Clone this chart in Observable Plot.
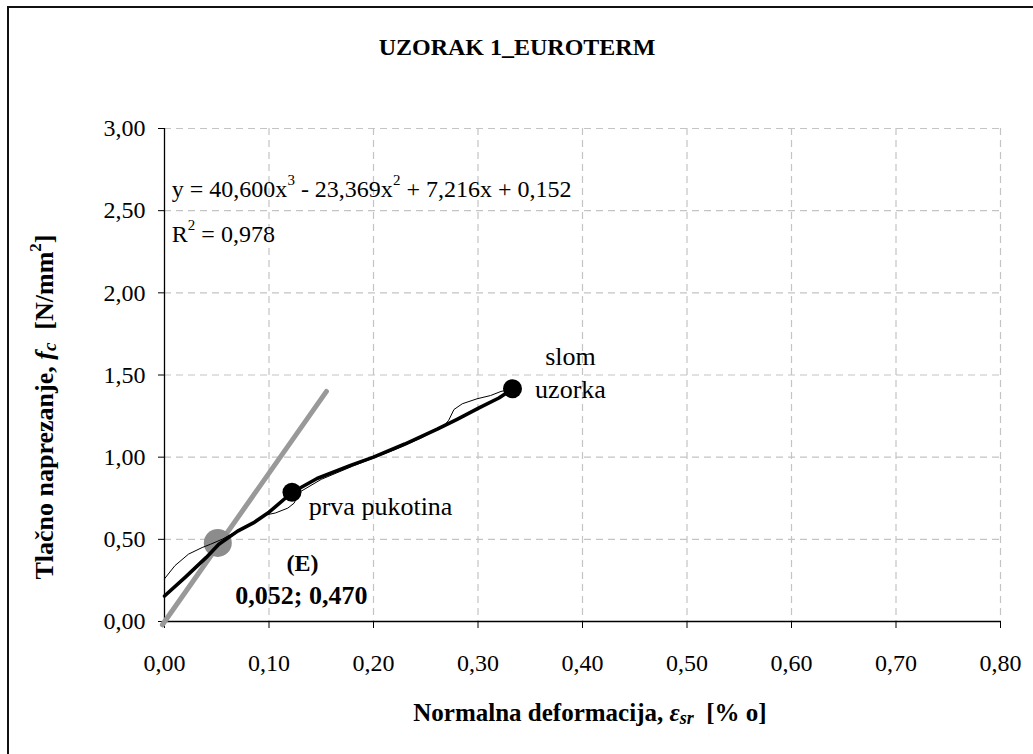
<!DOCTYPE html>
<html>
<head>
<meta charset="utf-8">
<script src="https://cdn.jsdelivr.net/npm/d3@7"></script>
<script src="https://cdn.jsdelivr.net/npm/@observablehq/plot@0.6"></script>
<style>
  body { margin: 0; background: #fff; }
  #wrap { position: relative; width: 1033px; height: 754px; overflow: hidden; background: #fff; }
  #wrap svg { position: absolute; left: 0; top: 0; }
  #border { position: absolute; left: 7px; top: 6px; width: 1100px; height: 900px; border: 2px solid #111; box-sizing: border-box; pointer-events: none; }
</style>
</head>
<body>
<div id="wrap"><div id="border"></div></div>
<script>
// ---- tick values and labels ----
const xTicks = [0, 0.1, 0.2, 0.3, 0.4, 0.5, 0.6, 0.7, 0.8];
const xTickLabels = ["0,00", "0,10", "0,20", "0,30", "0,40", "0,50", "0,60", "0,70", "0,80"];
const yTicks = [0, 0.5, 1.0, 1.5, 2.0, 2.5, 3.0];
const yTickLabels = ["0,00", "0,50", "1,00", "1,50", "2,00", "2,50", "3,00"];

// ---- fitted (thick) curve ----
const fitX = [0, 0.02, 0.04, 0.052, 0.07, 0.085, 0.10, 0.122, 0.146, 0.178, 0.20, 0.23, 0.261, 0.28, 0.301, 0.32, 0.333];
const fitY = [0.155, 0.27, 0.39, 0.47, 0.55, 0.60, 0.665, 0.785, 0.87, 0.95, 1.00, 1.08, 1.17, 1.23, 1.30, 1.36, 1.415];

const rawX = [0, 0.01, 0.023, 0.036, 0.044, 0.055, 0.065, 0.075, 0.08, 0.086, 0.094, 0.106, 0.118, 0.124, 0.127, 0.13, 0.15, 0.18, 0.20, 0.22, 0.245, 0.26, 0.268, 0.272, 0.277, 0.285, 0.299, 0.312, 0.322, 0.333];
const rawY = [0.26, 0.34, 0.41, 0.45, 0.47, 0.50, 0.535, 0.57, 0.58, 0.60, 0.645, 0.66, 0.69, 0.72, 0.76, 0.79, 0.865, 0.945, 0.995, 1.045, 1.115, 1.165, 1.195, 1.225, 1.29, 1.325, 1.355, 1.375, 1.40, 1.415];

// ---- elastic modulus line (grey) ----
const elasticX = [-0.002, 0.155];
const elasticY = [-0.02, 1.40];

// ---- marked points ----
const eX = [0.051];
const eY = [0.478];
const crackX = [0.122];
const crackY = [0.787];
const failX = [0.333];
const failY = [1.416];

const rows = (xs, ys) => xs.map((x, i) => ({x, y: ys[i]}));
const FONT = "'Liberation Serif', 'Times New Roman', serif";

const chart = Plot.plot({
  width: 1033,
  height: 754,
  marginLeft: 164,
  marginRight: 33,
  marginTop: 128,
  marginBottom: 133,
  style: {fontFamily: FONT, fontSize: "24px", color: "#000", background: "transparent"},
  x: {domain: [0, 0.8]},
  y: {domain: [0, 3]},
  marks: [
    Plot.gridX(xTicks.slice(1), {stroke: "#c4c4c4", strokeOpacity: 1, strokeWidth: 1.2, strokeDasharray: "7,5"}),
    Plot.gridY(yTicks.slice(1), {stroke: "#c4c4c4", strokeOpacity: 1, strokeWidth: 1.2, strokeDasharray: "7,5"}),
    Plot.ruleX([0], {stroke: "#000", strokeWidth: 1.3}),
    Plot.ruleY([0], {stroke: "#000", strokeWidth: 1.3}),
    Plot.axisX(xTicks, {tickFormat: d => xTickLabels[xTicks.indexOf(d)], tickSize: 7, tickPadding: 25, fontSize: 24, label: null, stroke: "#000"}),
    Plot.axisY(yTicks, {tickFormat: d => yTickLabels[yTicks.indexOf(d)], tickSize: 6, tickPadding: 13, fontSize: 24, label: null, stroke: "#000"}),
    Plot.line(rows(elasticX, elasticY), {x: "x", y: "y", stroke: "#999999", strokeWidth: 5, strokeLinecap: "round"}),
    Plot.dot(rows(eX, eY), {x: "x", y: "y", r: 14, fill: "#8c8c8c", stroke: "none"}),
    Plot.line(rows(rawX, rawY), {x: "x", y: "y", stroke: "#000", strokeWidth: 1}),
    Plot.line(rows(fitX, fitY), {x: "x", y: "y", stroke: "#000", strokeWidth: 3.6}),
    Plot.dot(rows(crackX, crackY), {x: "x", y: "y", r: 9.5, fill: "#000", stroke: "none"}),
    Plot.dot(rows(failX, failY), {x: "x", y: "y", r: 9.5, fill: "#000", stroke: "none"}),
    Plot.text(["slom"], {x: 0.3885, y: 1.609, text: d => d, textAnchor: "middle", fontSize: 26, fill: "#000", letterSpacing: "0.8px"}),
    Plot.text(["uzorka"], {x: 0.3885, y: 1.408, text: d => d, textAnchor: "middle", fontSize: 26, fill: "#000"}),
    Plot.text(["prva pukotina"], {x: 0.138, y: 0.697, text: d => d, textAnchor: "start", fontSize: 26, fill: "#000"}),
    Plot.text(["(E)"], {x: 0.132, y: 0.357, text: d => d, textAnchor: "middle", fontSize: 24, fontWeight: "bold", fill: "#000"}),
    Plot.text(["0,052; 0,470"], {x: 0.131, y: 0.16, text: d => d, textAnchor: "middle", fontSize: 26, fontWeight: "bold", fill: "#000"})
  ]
});

document.getElementById("wrap").insertBefore(chart, document.getElementById("border"));

const svg = d3.select(chart);
const sx = chart.scale("x"), sy = chart.scale("y");

// title
svg.append("text")
  .attr("x", 517).attr("y", 55)
  .attr("text-anchor", "middle")
  .attr("font-family", FONT).attr("font-size", 24).attr("font-weight", "bold")
  .text("UZORAK 1_EUROTERM");

// equation
const eq = svg.append("text")
  .attr("x", sx.apply(0.0075)).attr("y", sy.apply(2.58))
  .attr("text-anchor", "start")
  .attr("font-family", FONT).attr("font-size", 24);
eq.append("tspan").text("y = 40,600x");
eq.append("tspan").attr("font-size", 15).attr("dy", -12).text("3");
eq.append("tspan").attr("dy", 12).text(" - 23,369x");
eq.append("tspan").attr("font-size", 15).attr("dy", -12).text("2");
eq.append("tspan").attr("dy", 12).text(" + 7,216x + 0,152");

const r2 = svg.append("text")
  .attr("x", sx.apply(0.0075)).attr("y", sy.apply(2.307))
  .attr("text-anchor", "start")
  .attr("font-family", FONT).attr("font-size", 24);
r2.append("tspan").text("R");
r2.append("tspan").attr("font-size", 15).attr("dy", -12).text("2");
r2.append("tspan").attr("dy", 12).text(" = 0,978");

// y axis title
const yl = svg.append("text")
  .attr("transform", "translate(53,407) rotate(-90)")
  .attr("text-anchor", "middle")
  .attr("font-family", FONT).attr("font-size", 26).attr("font-weight", "bold");
yl.append("tspan").text("Tlačno naprezanje, ");
yl.append("tspan").attr("font-style", "italic").text("f");
yl.append("tspan").attr("font-style", "italic").attr("font-size", 19).attr("dy", 3).text("c");
yl.append("tspan").attr("dy", -3).text("  [N/mm");
yl.append("tspan").attr("font-size", 17).attr("dy", -12).text("2");
yl.append("tspan").attr("dy", 12).text("]");

// x axis title
const xl = svg.append("text")
  .attr("x", 590).attr("y", 721)
  .attr("text-anchor", "middle")
  .attr("font-family", FONT).attr("font-size", 25).attr("font-weight", "bold");
xl.append("tspan").text("Normalna deformacija, ");
xl.append("tspan").attr("font-style", "italic").text("ε");
xl.append("tspan").attr("font-style", "italic").attr("font-size", 18).attr("dy", 3).text("sr");
xl.append("tspan").attr("dy", -3).text("  [% o]");
</script>
</body>
</html>
